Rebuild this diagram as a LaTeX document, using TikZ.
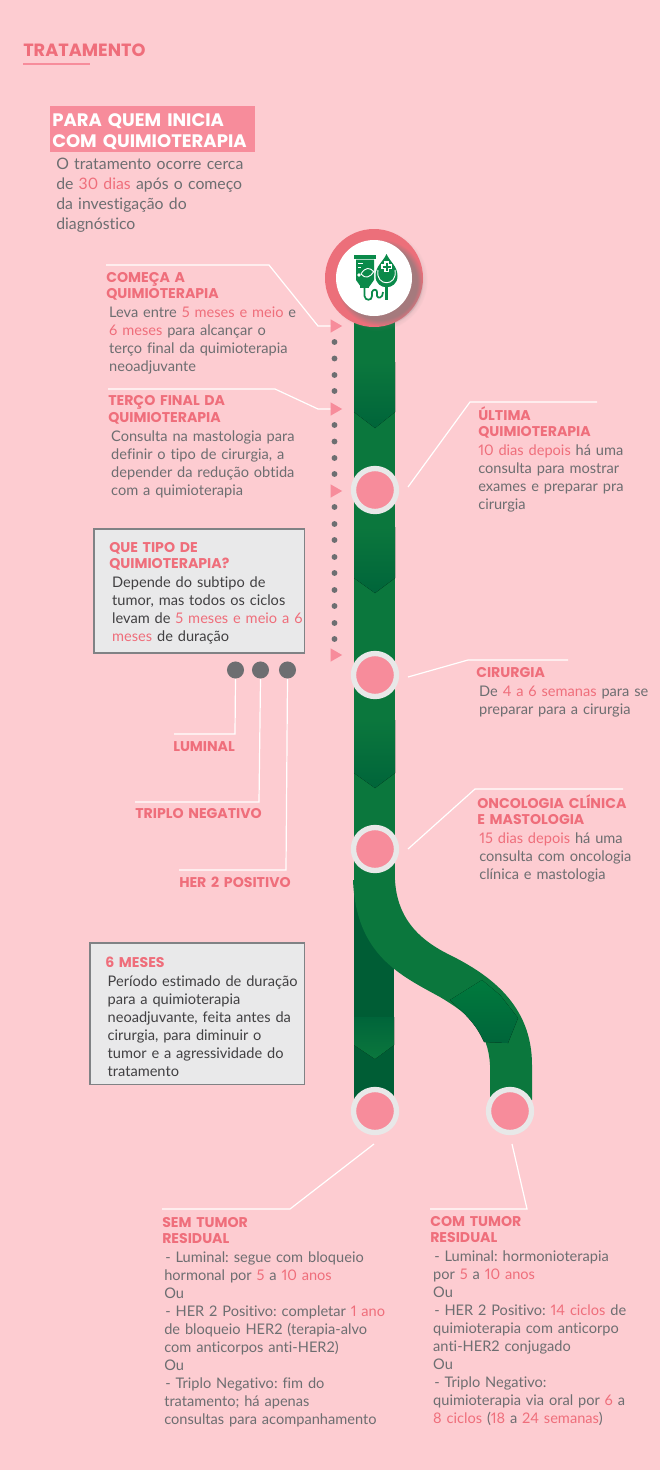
\documentclass[tikz,border=0pt]{standalone}
\usepackage{xcolor}
\usepackage{fontspec}
\setmainfont{Lato}[Ligatures=NoCommon, Numbers=Proportional, WordSpace=0.8]
\newfontfamily\headfont{Poppins}
\frenchspacing
\usetikzlibrary{shapes.geometric, shadows, positioning}
\definecolor{bgpink}{HTML}{FDCCD1}
\definecolor{ribbonpink}{HTML}{F78C9B}
\definecolor{headpink}{HTML}{EF6E7B}
\definecolor{ringpink}{HTML}{EC6F7A}
\definecolor{bodygrey}{HTML}{6D6E71}
\definecolor{boxtext}{HTML}{414042}
\definecolor{boxfill}{HTML}{E9E9EA}
\definecolor{boxline}{HTML}{808285}
\definecolor{dotgrey}{HTML}{6D6E71}
\definecolor{pipegreen}{HTML}{0B773D}
\definecolor{pipemid}{HTML}{007A3D}
\definecolor{pipedark}{HTML}{00653A}
\definecolor{iconpale}{HTML}{E8E8E8}
\definecolor{icongreen}{HTML}{0A8A4A}
\newcommand{\hilite}[1]{\textcolor{headpink}{#1}}
\tikzstyle{heading} = [inner sep=0pt, text width=235pt, align=left, text=headpink, font=\headfont\bfseries\fontsize{10.6}{12.4}\selectfont,
    execute at begin node=\strut, execute at end node=\strut, anchor=north west]
\tikzstyle{body} = [inner sep=0pt, text width=235pt, align=left, text=bodygrey, font=\fontsize{10.95}{13.5}\selectfont,
    execute at begin node=\strut, execute at end node=\strut]
\tikzstyle{boxbody} = [body, text=boxtext]
\tikzstyle{infobox} = [rectangle, draw=boxline, fill=boxfill, line width=1.1pt, outer sep=0pt, anchor=north west]
\tikzstyle{lead} = [draw, white, line width=0.9pt]
\tikzstyle{station} = [circle, draw=iconpale, fill=ribbonpink, line width=4pt, minimum size=32.25pt, inner sep=0pt]
\tikzstyle{dotmark} = [circle, fill=dotgrey, minimum size=4.4pt, inner sep=0pt]
\tikzstyle{typedot} = [circle, fill=dotgrey, minimum size=12.8pt, inner sep=0pt]
\tikzstyle{tri} = [isosceles triangle, isosceles triangle apex angle=60, fill=ribbonpink, minimum height=8.6pt, inner sep=0pt]
\tikzstyle{chevron} = [top color=pipegreen, middle color=pipemid, bottom color=pipedark]
\begin{document}
\begin{tikzpicture}[x=0.75pt, y=-0.75pt]
      \useasboundingbox (0,0) rectangle (660,1470);
      \fill [bgpink] (0,0) rectangle (660,1470);
      % Pipe
      \fill [pipegreen] (354,300) rectangle (395,882);
      \fill [pipedark!92!black] (354,880) rectangle (394,1100);
      \fill [top color=pipedark, bottom color=pipegreen] (354,1017) -- (394,1017) -- (394,1045) -- (375,1059) -- (354,1045) -- cycle;
      \fill [pipegreen] (395,880) .. controls (397,915) and (415,938) .. (450,955) .. controls (490,975) and (532,1005) .. (532,1065) -- (532,1100)
        -- (490,1100) -- (490,1065) .. controls (488,1030) and (470,1015) .. (440,997) .. controls (400,975) and (356,955) .. (353,880) -- cycle;
      \fill [top color=pipemid, middle color=pipemid, bottom color=pipedark] (450,1000) -- (482,980) -- (500,995) -- (518,1018) -- (508,1043) -- (484,1042) .. controls (476,1024) and (466,1015) .. (450,1000) -- cycle;
      \fill [chevron] (354,362) -- (395,362) -- (395,412) -- (375,428) -- (354,412) -- cycle;
      \fill [chevron] (354,527) -- (395,527) -- (395,578) -- (375,593) -- (354,578) -- cycle;
      \fill [chevron] (354,720) -- (395,720) -- (395,773) -- (375,788) -- (354,773) -- cycle;
      % Stations
      \node [station] (ultima-st) at (375,490) {};
      \node [station] (cirurgia-st) at (375,675) {};
      \node [station] (oncologia-st) at (375,849) {};
      \node [station] (sem-st) at (375,1111) {};
      \node [station] (com-st) at (510,1111) {};
      % Icon
      \node [circle, fill=ringpink, minimum size=73.5pt, inner sep=0pt, circular drop shadow={shadow xshift=2pt, shadow yshift=-1.5pt, shadow scale=1.04, opacity=0.22}] (ring) at (374,278) {};
      \node [circle, fill=white, minimum size=57pt, inner sep=0pt, circular drop shadow={shadow xshift=4pt, shadow yshift=-3pt, shadow scale=1.14, opacity=0.65}] (icon) at (374,278) {};
      \fill [icongreen] (354,255) rectangle (376,258.5);
      \fill [icongreen] (356,259.5) -- (374,259.5) -- (374,280) -- (369,287) -- (361,287) -- (356,280) -- cycle;
      \draw [white, line width=0.7pt] (358,263) -- (363,263) (358,267) -- (361,267);
      \draw [white, line width=0.7pt] (361,274) .. controls (365,267) and (370,267) .. (374,272) (361,274) .. controls (365,279) and (370,278) .. (374,271);
      \fill [white] (359,275) circle (1.8);
      \fill [icongreen] (360,285) rectangle (369,288);
      \draw [icongreen, line width=1.3pt] (364.5,287) -- (364.5,296) .. controls (365,301) and (372,301) .. (372,296) -- (372,292) .. controls (373,289) and (377,289) .. (377,292) -- (377,296) .. controls (378,299) and (383,298) .. (383,292);
      \fill [icongreen] (385,287) rectangle (388,300);
      \fill [icongreen] (386.5,254) .. controls (383,262) and (375.5,266) .. (375.5,276) .. controls (375.5,291) and (397.5,291) .. (397.5,276) .. controls (397.5,266) and (390,262) .. (386.5,254) -- cycle;
      \draw [white, line width=0.7pt] (378,270) .. controls (375,287) and (398,287) .. (395,270);
      \draw [white, line width=3.4pt] (386.5,261) -- (386.5,272) (381,266.5) -- (392,266.5);
      \draw [icongreen, line width=1.5pt] (386.5,262.5) -- (386.5,270.5) (382.5,266.5) -- (390.5,266.5);
      % Dots
      \foreach \y in {342,358.5,375,391,425,441.5,458,474,507,524,540,557,573,590,606,623,639} {
        \node [dotmark] at (334.5,\y) {};
      }
      \node [tri] (tri-comeca) at (334.5,326) {};
      \node [tri] (tri-terco) at (334.5,409) {};
      \node [tri] (tri-exames) at (334.5,491) {};
      \node [tri] (tri-cirurgia) at (334.5,655) {};
      % Title
      \node [heading, font=\headfont\bfseries\fontsize{13.3}{15}\selectfont] (title) at (23,42) {TRATAMENTO};
      \coordinate (rule-a) at (23,64);
      \coordinate (rule-b) at (90,64);
      \draw [ribbonpink, line width=1.6pt] (rule-a) -- (rule-b);
      \node [rectangle, fill=ribbonpink, minimum width=153.75pt, minimum height=34.5pt, outer sep=0pt, anchor=north west] (ribbon) at (50,106) {};
      \node [heading, text=white, font=\headfont\bfseries\fontsize{13.55}{15.75}\selectfont, below right=4pt and 1.5pt of ribbon.north west] (quem) {PARA QUEM INICIA\\COM QUIMIOTERAPIA};
      \node [body, font=\fontsize{11.85}{15}\selectfont, anchor=north west] (quem-text) at (56,155) {O tratamento ocorre cerca\\de \hilite{30 dias} após o começo\\da investigação do\\diagnóstico};
      % Left column
      \node [heading] (comeca) at (106,270.5) {COMEÇA A\\QUIMIOTERAPIA};
      \node [body, below right=0.7pt and 2.2pt of comeca.south west] (comeca-text) {Leva entre \hilite{5 meses e meio} e\\\hilite{6 meses} para alcançar o\\terço final da quimioterapia\\neoadjuvante};
      \node [heading] (terco) at (108,394) {TERÇO FINAL DA\\QUIMIOTERAPIA};
      \node [body, below right=0.7pt and 2.2pt of terco.south west] (terco-text) {Consulta na mastologia para\\definir o tipo de cirurgia, a\\depender da redução obtida\\com a quimioterapia};
      \node [infobox, minimum width=158pt, minimum height=93pt] (tipo-box) at (94,529) {};
      \node [heading, below right=8.5pt and 11.25pt of tipo-box.north west] (tipo) {QUE TIPO DE\\QUIMIOTERAPIA?};
      \node [boxbody, below right=0.7pt and 2.2pt of tipo.south west] (tipo-text) {Depende do subtipo de\\tumor, mas todos os ciclos\\levam de \hilite{5 meses e meio a 6}\\\hilite{meses} de duração};
      \node [typedot] (dot-luminal) at (235.5,670) {};
      \node [typedot] (dot-triplo) at (260.5,670) {};
      \node [typedot] (dot-her) at (287.5,670) {};
      \node [heading] (luminal) at (173,739.5) {LUMINAL};
      \node [heading] (triplo) at (135,806.5) {TRIPLO NEGATIVO};
      \node [heading] (her) at (179,875.5) {HER 2 POSITIVO};
      \node [infobox, minimum width=161pt, minimum height=106pt] (meses-box) at (90,943) {};
      \node [heading, below right=9.3pt and 11.25pt of meses-box.north west] (meses) {6 MESES};
      \node [boxbody, below right=0.7pt and 1.8pt of meses.south west] (meses-text) {Período estimado de duração\\para a quimioterapia\\neoadjuvante, feita antes da\\cirurgia, para diminuir o\\tumor e a agressividade do\\tratamento};
      % Right column
      \node [heading] (ultima) at (478,408.5) {\smash{ÚLTIMA}\\QUIMIOTERAPIA};
      \node [body, below right=0.7pt and 0pt of ultima.south west] (ultima-text) {\hilite{10 dias depois} há uma\\consulta para mostrar\\exames e preparar pra\\cirurgia};
      \node [heading] (cirurgia) at (476,665.5) {CIRURGIA};
      \node [body, below right=0.7pt and 2.2pt of cirurgia.south west] (cirurgia-text) {De \hilite{4 a 6 semanas} para se\\preparar para a cirurgia};
      \node [heading] (oncologia) at (477,796.5) {\smash{ONCOLOGIA CLÍNICA}\\E MASTOLOGIA};
      \node [body, below right=0.7pt and 1.5pt of oncologia.south west] (oncologia-text) {\hilite{15 dias depois} há uma\\consulta com oncologia\\clínica e mastologia};
      % Outcomes
      \node [heading] (sem) at (162,1215.5) {SEM TUMOR\\RESIDUAL};
      \node [body, below right=0.7pt and 1.5pt of sem.south west] (sem-text) {\hspace*{0.8pt}- Luminal: segue com bloqueio\\hormonal por \hilite{5} a \hilite{10 anos}\\Ou\\\hspace*{0.8pt}- HER 2 Positivo: completar \hilite{1 ano}\\de bloqueio HER2 (terapia-alvo\\com anticorpos anti-HER2)\\Ou\\\hspace*{0.8pt}- Triplo Negativo: fim do\\tratamento; há apenas\\consultas para acompanhamento};
      \node [heading] (com) at (430,1214.5) {COM TUMOR\\RESIDUAL};
      \node [body, below right=0.7pt and 2.2pt of com.south west] (com-text) {\hspace*{0.8pt}- Luminal: hormonioterapia\\por \hilite{5} a \hilite{10 anos}\\Ou\\\hspace*{0.8pt}- HER 2 Positivo: \hilite{14 ciclos} de\\quimioterapia com anticorpo\\anti-HER2 conjugado\\Ou\\\hspace*{0.8pt}- Triplo Negativo:\\quimioterapia via oral por \hilite{6} a\\\hilite{8 ciclos} (\hilite{18} a \hilite{24 semanas})};
      % Draw edges
      \coordinate (comeca-a) at (106,265);
      \coordinate (comeca-b) at (269,265);
      \coordinate (comeca-c) at (318,326);
      \coordinate (terco-a) at (108,389);
      \coordinate (terco-b) at (275,389);
      \coordinate (terco-c) at (318,409);
      \coordinate (ultima-a) at (408,487);
      \coordinate (ultima-b) at (470,402);
      \coordinate (ultima-c) at (597,402);
      \coordinate (cirurgia-a) at (408,677);
      \coordinate (cirurgia-b) at (468,660);
      \coordinate (cirurgia-c) at (568,660);
      \coordinate (oncologia-a) at (408,849);
      \coordinate (oncologia-b) at (475,789);
      \coordinate (oncologia-c) at (623,789);
      \coordinate (luminal-a) at (235,734);
      \coordinate (luminal-b) at (174,734);
      \coordinate (triplo-a) at (259,802);
      \coordinate (triplo-b) at (135,802);
      \coordinate (her-a) at (286,870);
      \coordinate (her-b) at (179,870);
      \coordinate (sem-a) at (374,1144);
      \coordinate (sem-b) at (290,1209);
      \coordinate (sem-c) at (162,1209);
      \coordinate (com-a) at (512,1144);
      \coordinate (com-b) at (527,1209);
      \coordinate (com-c) at (430,1209);
      \path [lead] (comeca-a) -- (comeca-b) -- (comeca-c) -- (tri-comeca.west);
      \path [lead] (terco-a) -- (terco-b) -- (terco-c) -- (tri-terco.west);
      \path [lead] (ultima-a) -- (ultima-b) -- (ultima-c);
      \path [lead] (cirurgia-a) -- (cirurgia-b) -- (cirurgia-c);
      \path [lead] (oncologia-a) -- (oncologia-b) -- (oncologia-c);
      \path [lead] (dot-luminal.south) -- (luminal-a) -- (luminal-b);
      \path [lead] (dot-triplo.south) -- (triplo-a) -- (triplo-b);
      \path [lead] (dot-her.south) -- (her-a) -- (her-b);
      \path [lead] (sem-a) -- (sem-b) -- (sem-c);
      \path [lead] (com-a) -- (com-b) -- (com-c);
    \end{tikzpicture}
\end{document}
